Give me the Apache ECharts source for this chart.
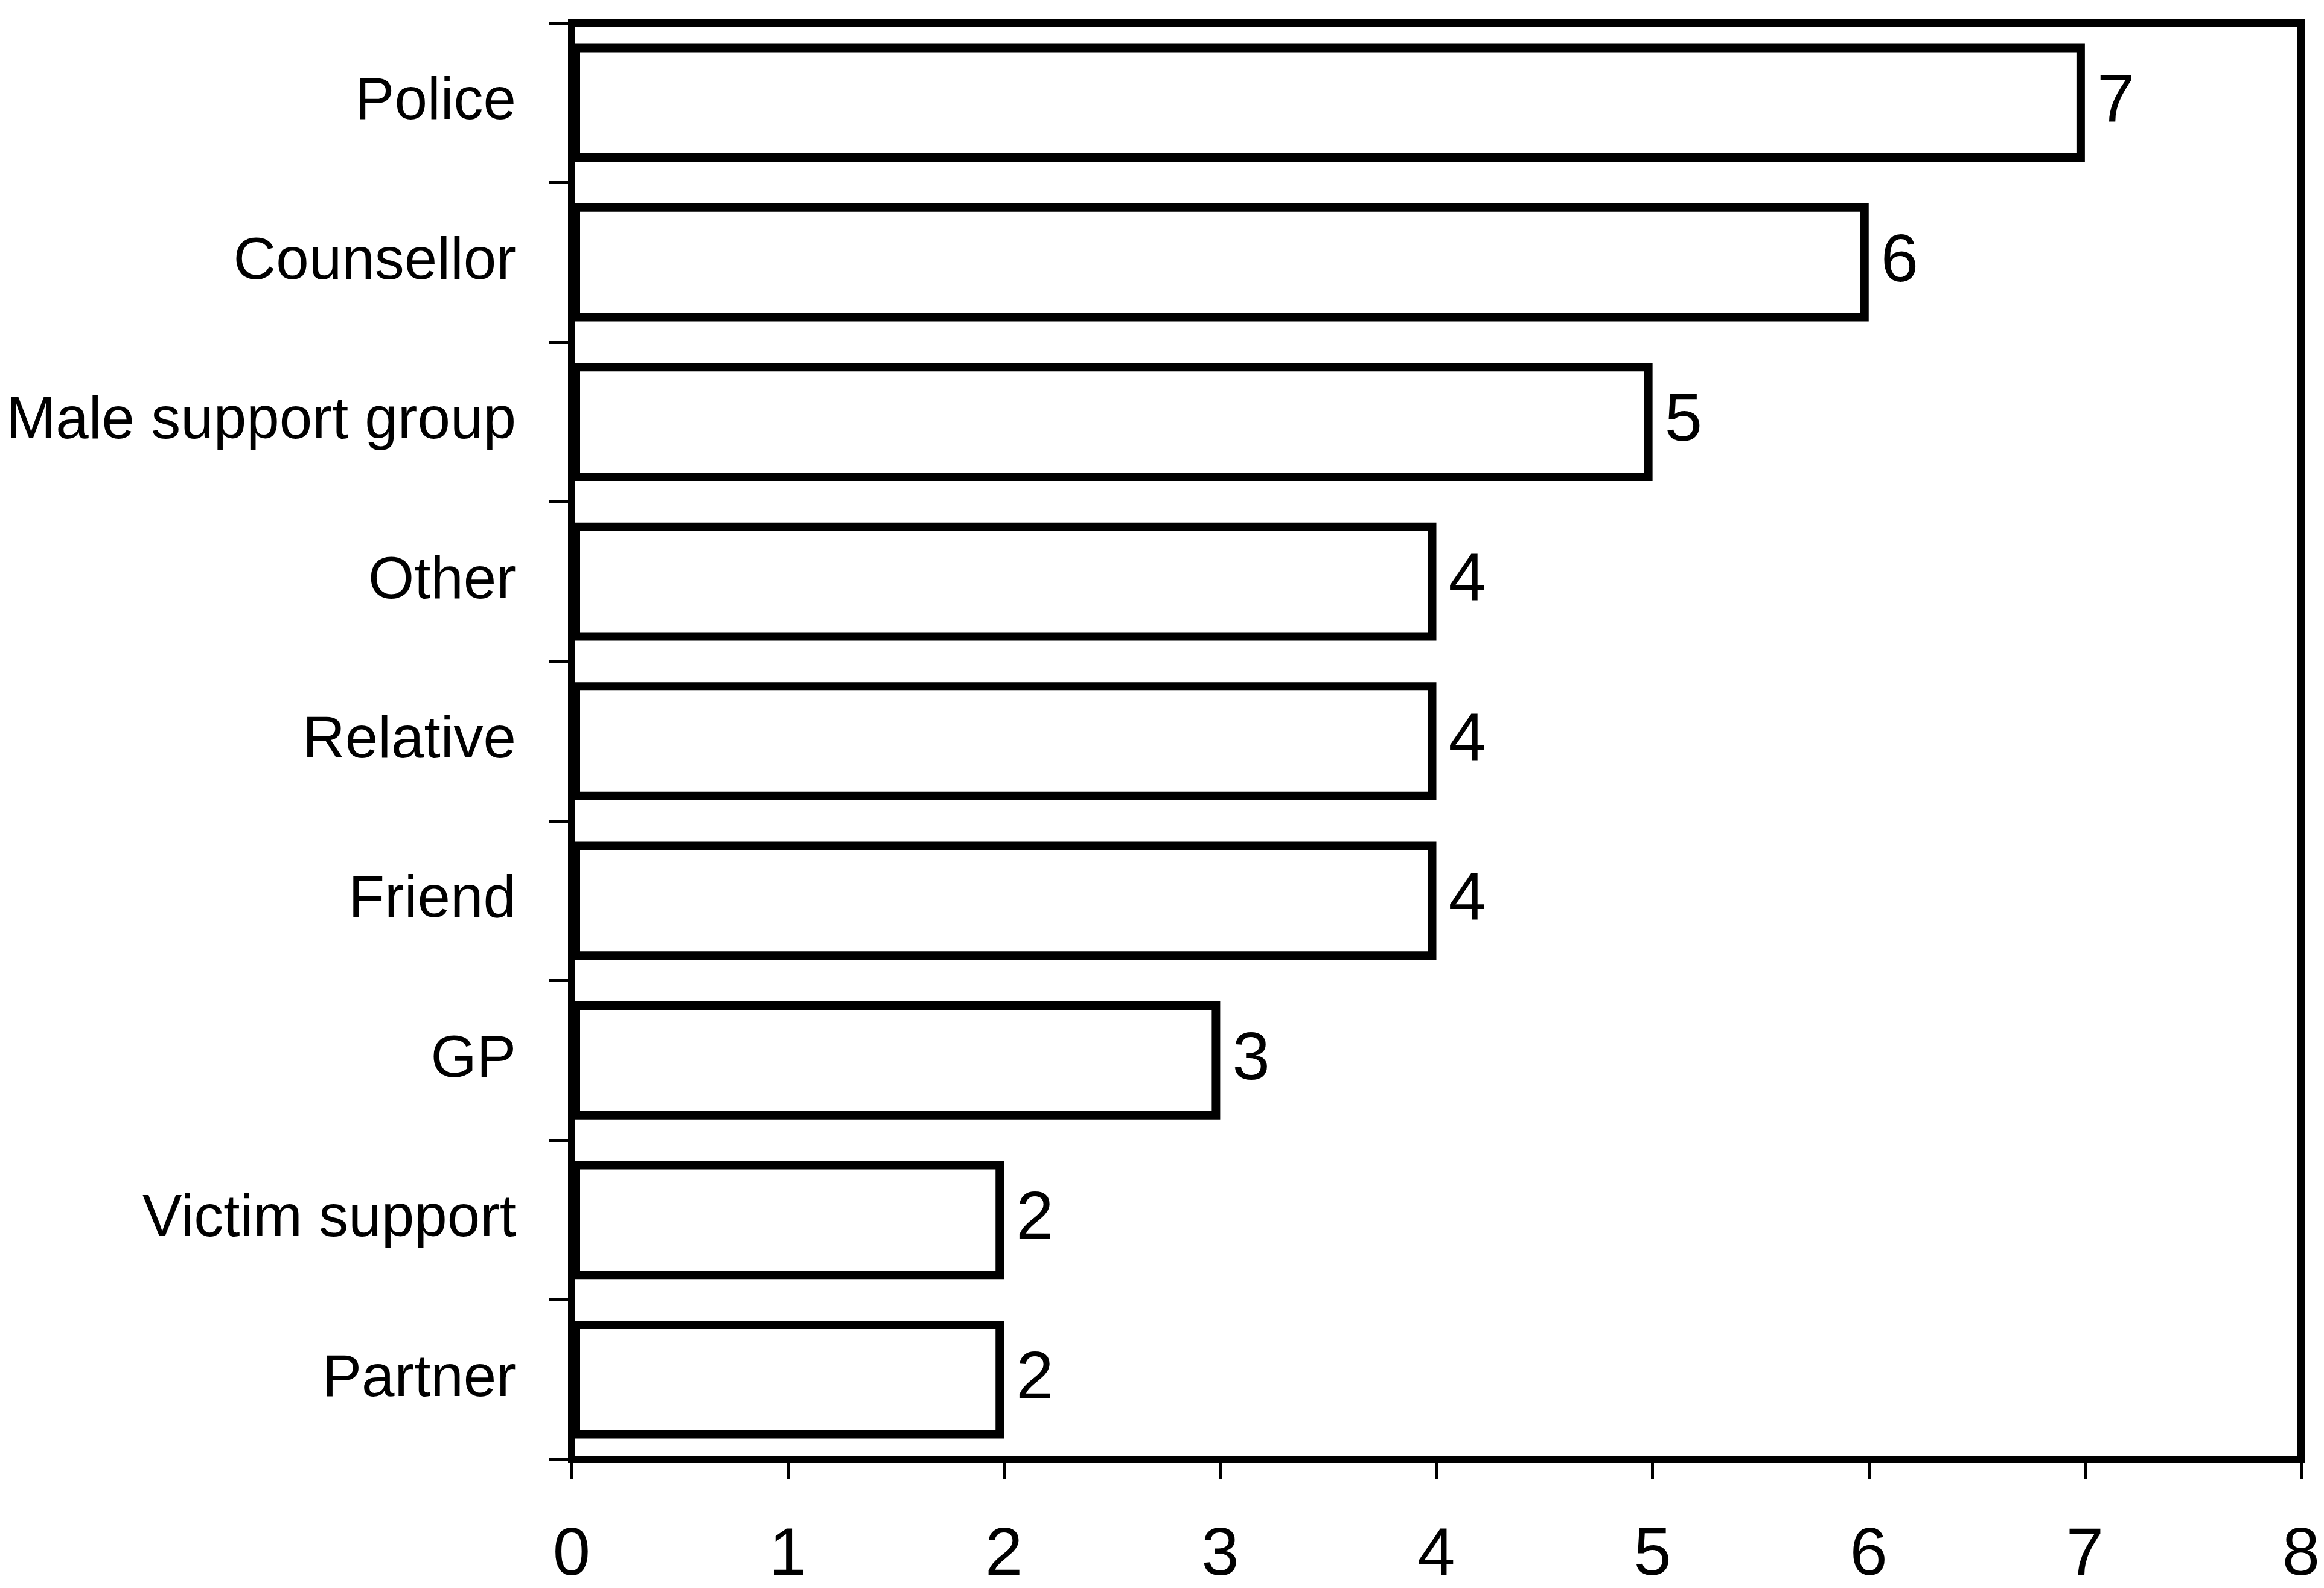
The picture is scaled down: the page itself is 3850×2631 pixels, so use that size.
<!DOCTYPE html>
<html>
<head>
<meta charset="utf-8">
<script src="https://cdn.jsdelivr.net/npm/echarts@6/dist/echarts.min.js"></script>
<style>
html,body{margin:0;padding:0;background:#fff;}
#chart{width:3850px;height:2631px;}
</style>
</head>
<body>
<div id="chart"></div>
<script>
const categories = ["Police","Counsellor","Male support group","Other","Relative","Friend","GP","Victim support","Partner"];
const values = [7,6,5,4,4,4,3,2,2];
const xTicks = [0,1,2,3,4,5,6,7,8];

const FONT = "'Liberation Sans Narrow','Arial Narrow','Liberation Sans',Arial,sans-serif";
const chart = echarts.init(document.getElementById('chart'));
chart.setOption({
  animation: false,
  backgroundColor: '#ffffff',
  grid: {
    left: 947, right: 38, top: 38, bottom: 213,
    containLabel: false,
    outerBoundsMode: 'none',
    show: true, borderColor: '#000', borderWidth: 12, backgroundColor: 'transparent'
  },
  xAxis: {
    type: 'value',
    min: xTicks[0], max: xTicks[xTicks.length-1], interval: 1,
    splitLine: {show: false},
    axisLine: {show: true, lineStyle: {color: '#000', width: 12}},
    axisTick: {show: true, length: 32, lineStyle: {color: '#000', width: 5}},
    axisLabel: {color: '#000', fontFamily: FONT, fontSize: 112, margin: 104}
  },
  yAxis: {
    type: 'category',
    data: categories,
    inverse: true,
    axisLine: {show: true, lineStyle: {color: '#000', width: 12}},
    axisTick: {show: true, length: 37, lineStyle: {color: '#000', width: 5}},
    axisLabel: {color: '#000', fontFamily: FONT, fontSize: 98, margin: 92}
  },
  series: [{
    type: 'bar',
    data: values,
    barCategoryGap: '26%',
    itemStyle: {color: '#ffffff', borderColor: '#000', borderWidth: 14},
    label: {
      show: true, position: 'right', distance: 20,
      color: '#000', fontFamily: FONT, fontSize: 112
    }
  }]
});
</script>
</body>
</html>
